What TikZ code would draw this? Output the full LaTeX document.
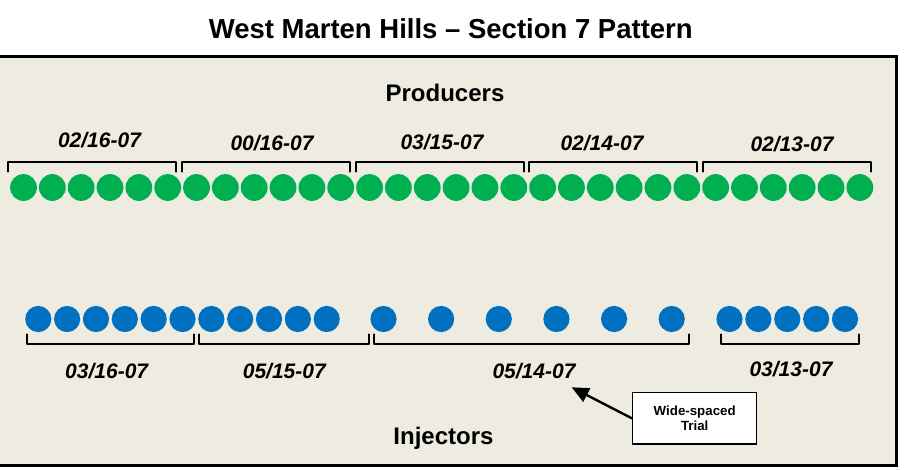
\documentclass[tikz,border=0pt]{standalone}
\usepackage{fontspec}
\setmainfont{Liberation Sans}
\usepackage{xcolor}
\usetikzlibrary{arrows.meta}

\definecolor{panelbg}{HTML}{EEECE1}
\definecolor{prodgreen}{HTML}{00B050}
\definecolor{injblue}{HTML}{0070C0}

\tikzset{
  prod/.style={circle,fill=prodgreen,inner sep=0pt,minimum size=26.8pt},
  inj/.style={circle,fill=injblue,inner sep=0pt,minimum size=26.2pt},
  brace/.style={line width=2pt,line cap=round,line join=round},
  datelbl/.style={anchor=base,font=\fontsize{21}{25}\selectfont\bfseries\itshape},
  heading/.style={anchor=base,font=\fontsize{24}{29}\selectfont\bfseries},
  callout/.style={draw,line width=1.3pt,fill=white,minimum width=124pt,minimum height=51.3pt,
    align=center,font=\fontsize{13.3}{15}\selectfont\bfseries}
}

\begin{document}
\begin{tikzpicture}[x=1pt,y=-1pt]
					\useasboundingbox (0,0) rectangle (905,469);
					% Define the panel
					\draw[fill=panelbg,line width=2.4pt] (-2,56.5) rectangle (896.5,465.5);
					\node[anchor=base,font=\fontsize{27.5}{33}\selectfont\bfseries] (title) at (450.8,38.3) {West Marten Hills -- Section 7 Pattern};
					\node[heading] (prodhead) at (445,101) {Producers};
					\node[heading] (injhead) at (443.5,444.5) {Injectors};
					% Producer wells
					\foreach \i in {1,...,30}
						\node[prod] (p\i) at ({23.5+28.84*(\i-1)},187.5) {};
					% Injector wells
					\foreach \i in {1,...,11}
						\node[inj] (a\i) at ({38.3+28.84*(\i-1)},319) {};
					\foreach \i in {1,...,6}
						\node[inj] (w\i) at ({383.5+57.64*(\i-1)},319) {};
					\foreach \i in {1,...,5}
						\node[inj] (b\i) at ({729.5+28.88*(\i-1)},319) {};
					% Producer brackets
					\foreach \k in {0,...,4}
						\draw[brace] ({8.3+173.6*\k},171.7) -- ++(0,-10) -- ++(168,0) -- ++(0,10);
					% Injector brackets
					\foreach \a/\b in {26.7/194,199/369.3,374.3/689.3,720.7/859.3}
						\draw[brace] (\a,334.3) -- (\a,344.3) -- (\b,344.3) -- (\b,334.3);
					% Section labels
					\node[datelbl] (ptop1) at (99.5,147) {02/16-07};
					\node[datelbl] (ptop2) at (272,150) {00/16-07};
					\node[datelbl] (ptop3) at (442,149) {03/15-07};
					\node[datelbl] (ptop4) at (602,150) {02/14-07};
					\node[datelbl] (ptop5) at (792,151.5) {02/13-07};
					\node[datelbl] (ibot1) at (106.7,378) {03/16-07};
					\node[datelbl] (ibot2) at (284.3,378) {05/15-07};
					\node[datelbl] (ibot3) at (534,378) {05/14-07};
					\node[datelbl] (ibot4) at (791,376.7) {03/13-07};
					% Trial callout
					\node[callout] (trial) at (694.7,418.4) {Wide-spaced\\Trial};
					\coordinate (trialtip) at (571.7,387.3);
					\draw[line width=2.4pt,-{Triangle[length=17pt,width=15pt]}] (trial.west) -- (trialtip);
				\end{tikzpicture}
\end{document}
